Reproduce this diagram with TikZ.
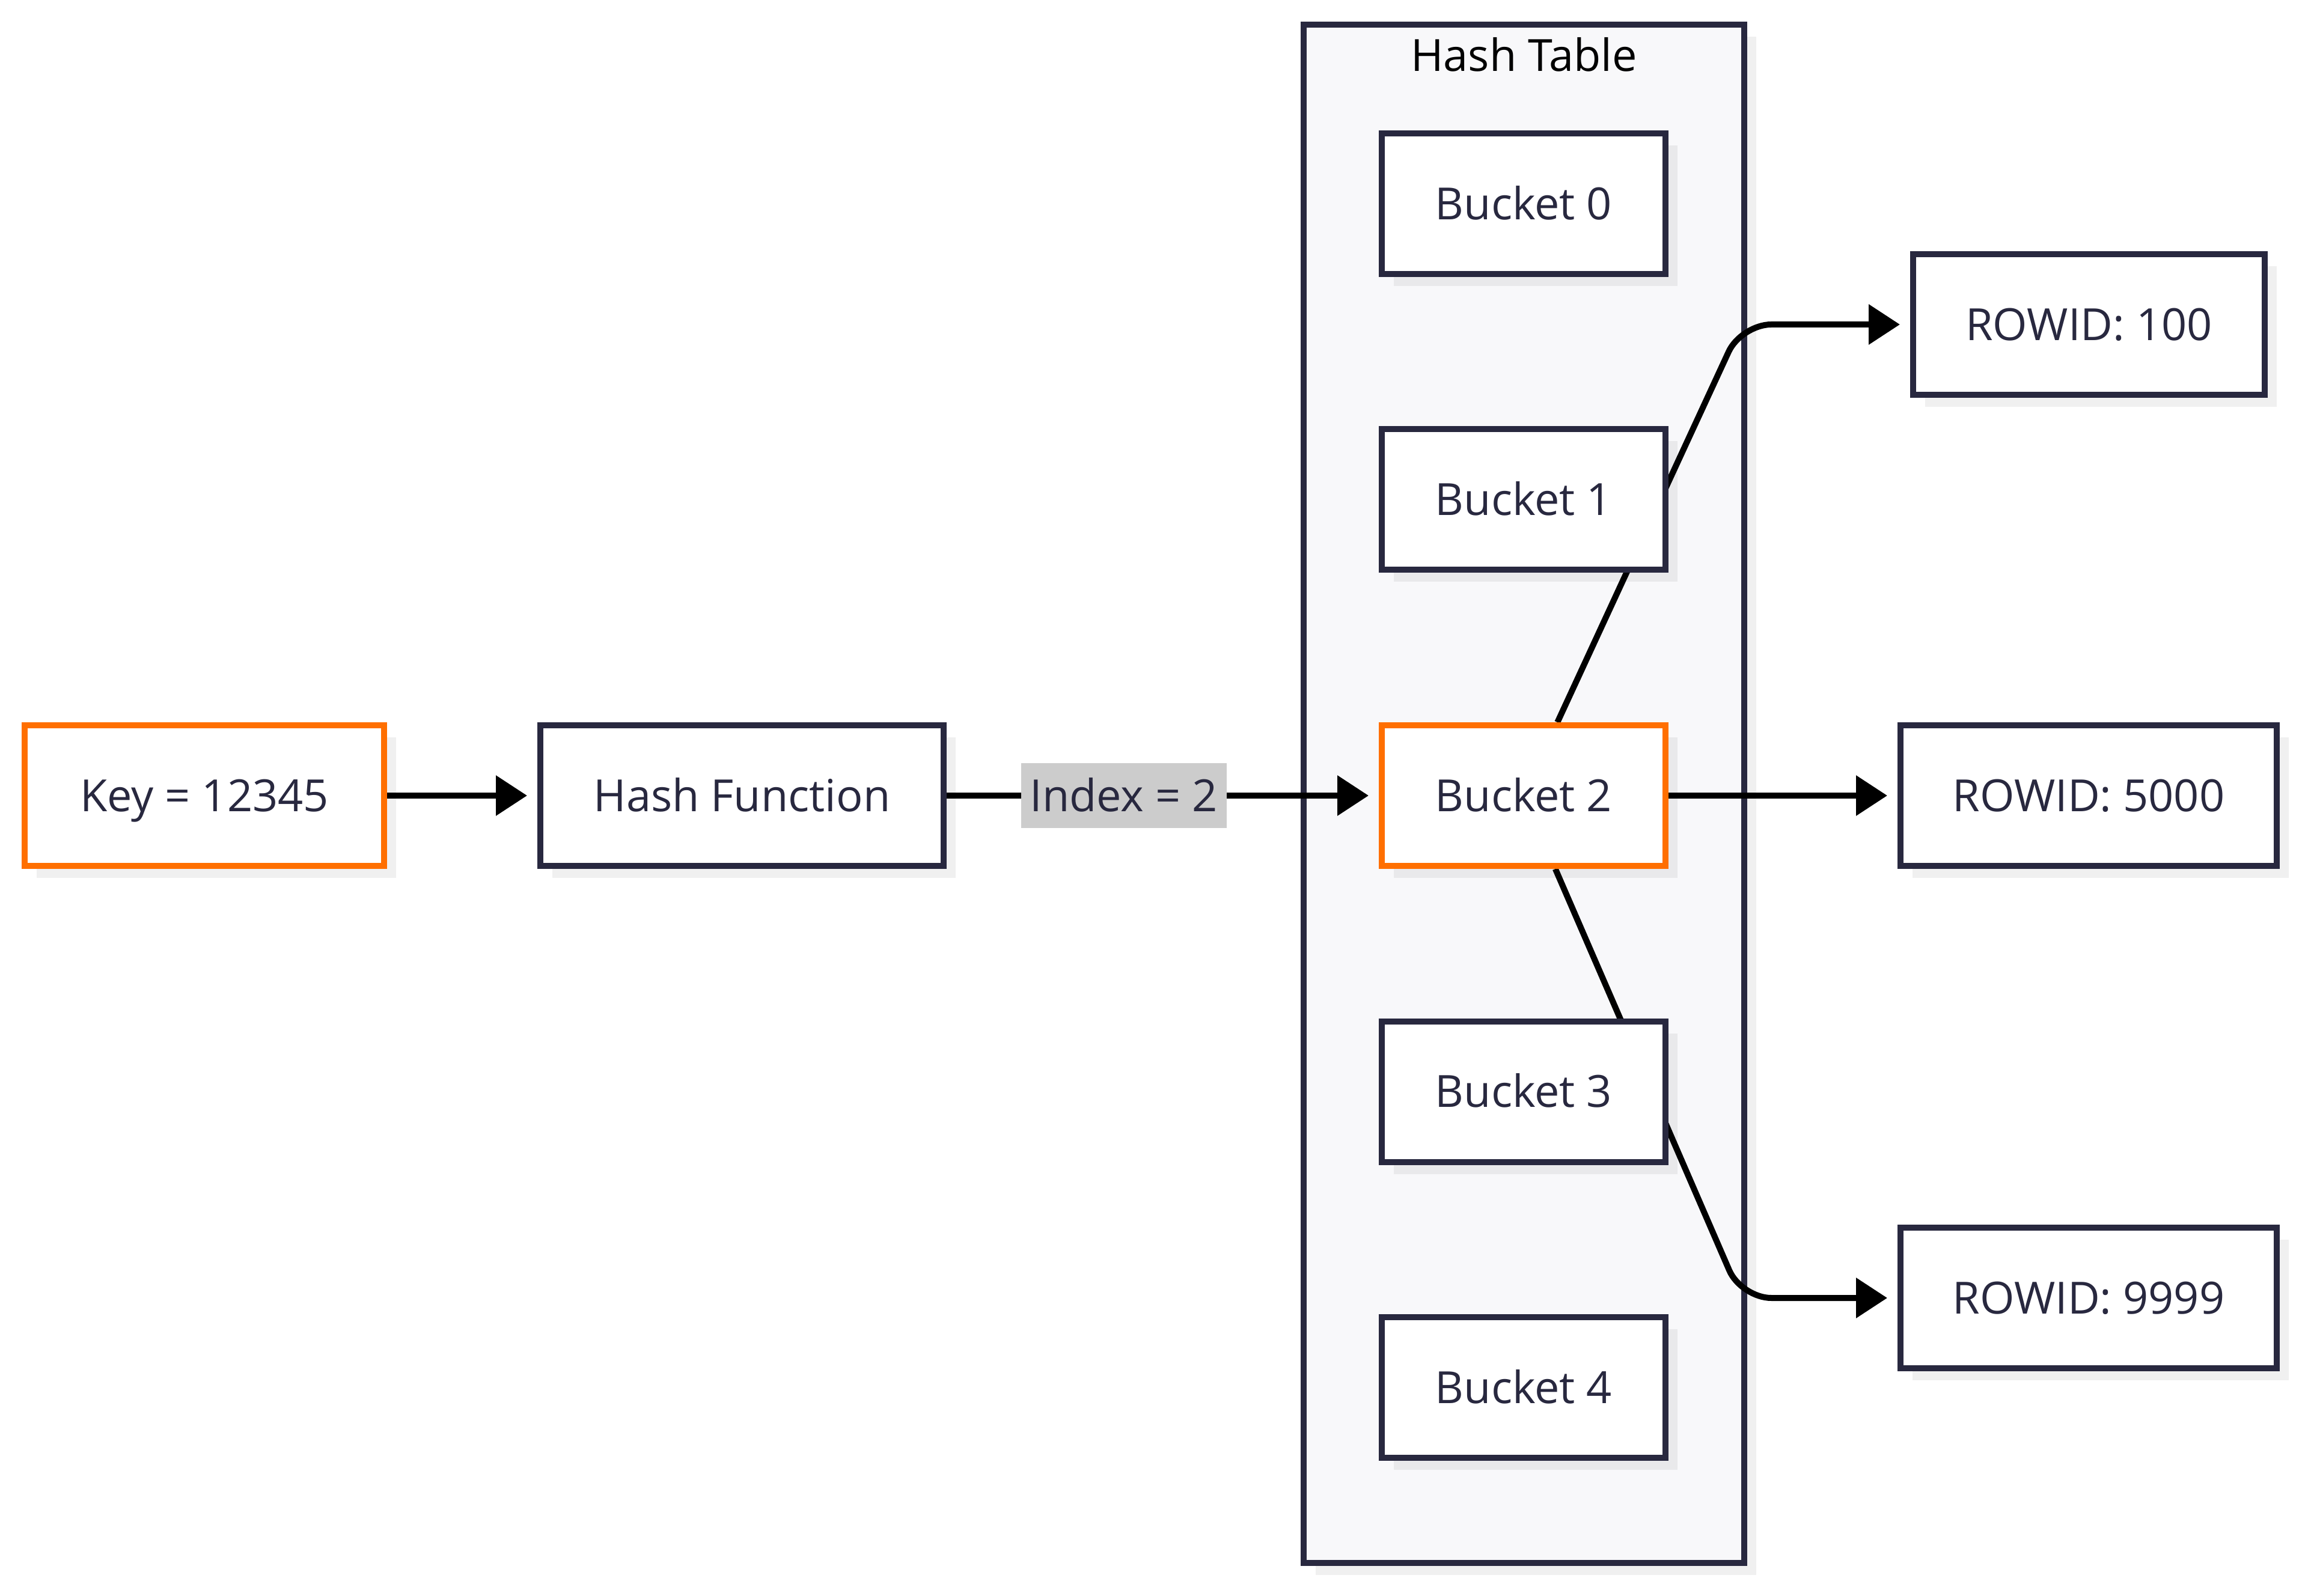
\documentclass[tikz,border=0pt]{standalone}
\usepackage{fontspec}
\setmainfont{Open Sans}
\usetikzlibrary{arrows.meta,shadows}
\definecolor{ink}{HTML}{28283F}
\definecolor{hot}{HTML}{FF6F00}
\definecolor{tablebg}{HTML}{F8F8FA}
\definecolor{labelbg}{HTML}{CCCCCC}
\pgfdeclarelayer{back}
\pgfdeclarelayer{wires}
\pgfsetlayers{back,wires,main}
\tikzset{
	txt/.style={font=\fontsize{21}{25}\selectfont, text height=15pt, text depth=0pt},
	box/.style={txt, draw=ink, line width=1mm, fill=white, text=ink, inner sep=0pt,
		minimum height=2.34cm,
		drop shadow={shadow xshift=0.2cm, shadow yshift=-0.2cm, fill=black, opacity=0.06}},
	hotbox/.style={box, draw=hot},
	cluster/.style={draw=ink, line width=1mm, fill=tablebg,
		drop shadow={shadow xshift=0.2cm, shadow yshift=-0.2cm, fill=black, opacity=0.06}},
	wire/.style={line width=1mm, -{Triangle[length=0.52cm,width=0.65cm]}, shorten >=0.17cm},
	idx/.style={txt, fill=labelbg, text=ink, inner sep=0pt, minimum width=3.42cm, minimum height=1.08cm},
}

\begin{document}
\begin{tikzpicture}
	%%%%% START %%%%%
	\useasboundingbox (0, 0) rectangle (38.40, 26.55);
	
	% hash table frame
	\begin{pgfonlayer}{back}
		\node[cluster, minimum width=7.33cm, minimum height=25.6cm] (table) at (25.355, 13.34) {};
		\node[txt] (tabletitle) at ([yshift=-0.565cm]table.north) {Hash Table};
	\end{pgfonlayer}
	
	\node[hotbox, minimum width=5.98cm] (key) at (3.40, 13.31) {Key = 12345};
	\node[box, minimum width=6.71cm] (hash) at (12.345, 13.31) {Hash Function};
	
	\foreach \i/\s in {0/box, 1/box, 2/hotbox, 3/box, 4/box}
		\node[\s, minimum width=4.72cm] (b\i) at (25.35, 23.16 - 4.925*\i) {Bucket \i};
	
	\node[box, minimum width=5.85cm] (r100) at (34.755, 21.15) {ROWID: 100};
	\node[box, minimum width=6.26cm] (r5000) at (34.75, 13.31) {ROWID: 5000};
	\node[box, minimum width=6.26cm] (r9999) at (34.75, 4.95) {ROWID: 9999};
	
	\coordinate (bendA) at (28.97, 21.15);
	\coordinate (bendB) at (28.97, 4.95);
	
	\begin{pgfonlayer}{wires}
		\draw[wire] (key) -- (hash);
		\draw[wire] (hash) -- node[idx, pos=0.41] (idxlabel) {Index = 2} (b2);
		\draw[wire, rounded corners=0.5cm] (b2) -- (bendA) -- (r100);
		\draw[wire] (b2) -- (r5000);
		\draw[wire, rounded corners=0.5cm] (b2) -- (bendB) -- (r9999);
	\end{pgfonlayer}
	%%%%% END %%%%%
\end{tikzpicture}
\end{document}
